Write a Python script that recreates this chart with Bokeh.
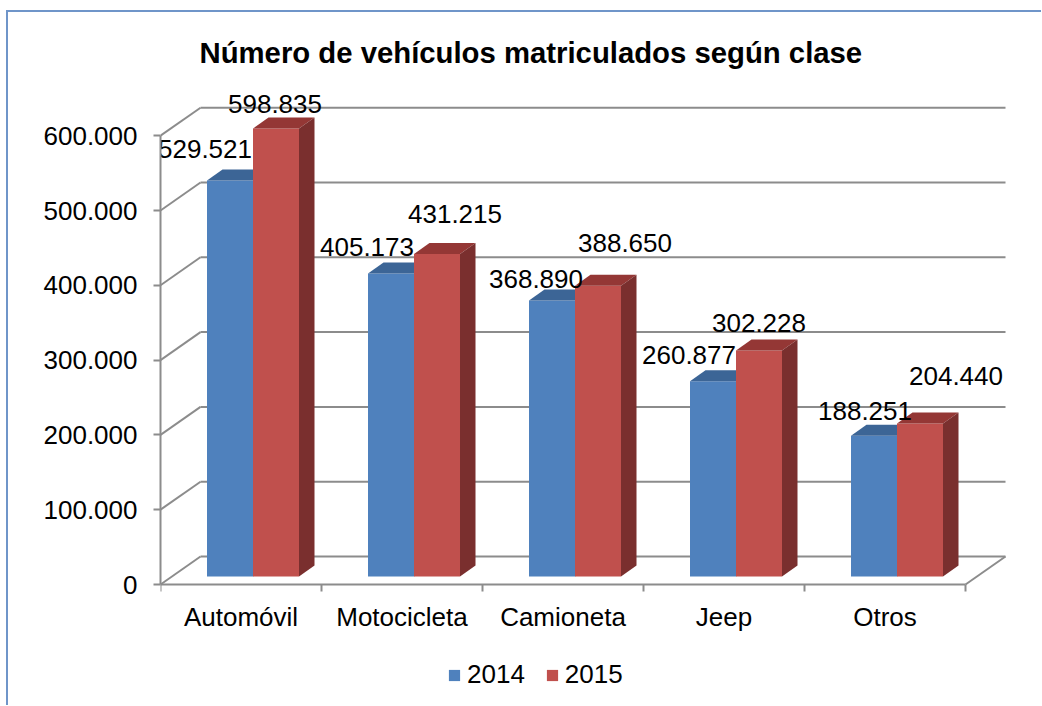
from bokeh.plotting import figure
from bokeh.models import Range1d, FixedTicker, Legend, LegendItem, ColumnDataSource, LinearAxis
from bokeh.embed import file_html
from bokeh.resources import INLINE
from bokeh.core.properties import value

# ---------------- data ----------------
categories = ["Automóvil", "Motocicleta", "Camioneta", "Jeep", "Otros"]
series_names = ["2014", "2015"]
values_2014 = [529521, 405173, 368890, 260877, 188251]
values_2015 = [598835, 431215, 388650, 302228, 204440]
y_ticks = [0, 100000, 200000, 300000, 400000, 500000, 600000]
y_tick_labels = ["0", "100.000", "200.000", "300.000", "400.000", "500.000", "600.000"]
title_text = "Número de vehículos matriculados según clase"

# ---------------- layout / style ----------------
FONT = "Liberation Sans"
PX_X = 161.0            # pixels per category
PX_Y = 0.748 / 1000.0   # pixels per unit of value
FRAME_W = 853
ABOVE_ZERO_PX = 494     # frame pixels above the value 0
BELOW_ZERO_PX = 116     # frame pixels below the value 0 (axis labels + legend)
FRAME_H = ABOVE_ZERO_PX + BELOW_ZERO_PX
X_END = FRAME_W / PX_X
Y_END = ABOVE_ZERO_PX / PX_Y
Y_START = -BELOW_ZERO_PX / PX_Y
n = len(categories)

# pseudo-3D offsets (converted from pixels to data units)
wall_dx, wall_dy = 40 / PX_X, 28 / PX_Y
bar_fx, bar_fy = 12 / PX_X, 8 / PX_Y
bar_w = 46 / PX_X
depth_dx, depth_dy = 15.5 / PX_X, 11 / PX_Y

# per-label nudges in screen pixels (layout only)
nudge_2014 = ([-25, -24, -16, -24, -9], [-31, -26, -22, -26, -25])
nudge_2015 = ([-1, 18, 27, 0, 36], [-25, -40, -43, -27, -48])

colors = {
    "2014": ("#4F81BD", "#3C6596", "#2F5480"),
    "2015": ("#C0504D", "#943735", "#7A2F2E"),
}
GRID = "#8C8C8C"
BORDER = "#6F95C9"

p = figure(
    output_backend="svg", toolbar_location=None,
    frame_width=FRAME_W, frame_height=FRAME_H,
    x_range=Range1d(0, X_END), y_range=Range1d(Y_START, Y_END),
    x_axis_location=None,
    min_border_left=152, min_border_top=78, min_border_right=28, min_border_bottom=5,
)
p.styles = {"margin-left": "6px", "margin-top": "10px",
            "border-top": f"2px solid {BORDER}", "border-left": f"2px solid {BORDER}"}
p.outline_line_color = None
p.xgrid.visible = False
p.ygrid.visible = False
p.background_fill_color = "white"
p.border_fill_color = "white"

# title
p.title.text = title_text
p.title.text_font = FONT
p.title.text_font_style = "bold"
p.title.text_font_size = "29.3px"
p.title.text_color = "black"
p.title.align = "left"
p.title.offset = 39
p.title.standoff = 43

# ------------- walls / floor grid -------------
gx, gy = [], []
for t in y_ticks:
    gx.append([wall_dx, n + wall_dx]); gy.append([t + wall_dy, t + wall_dy])
    gx.append([0, wall_dx]); gy.append([t, t + wall_dy])
gx.append([n, n + wall_dx]); gy.append([0, wall_dy])
p.multi_line(gx, gy, line_color=GRID, line_width=2)

# ------------- bars -------------
legend_items = []
for k, (name, vals) in enumerate(zip(series_names, [values_2014, values_2015])):
    front, top, side = colors[name]
    xl = [i + 0.5 + bar_fx - bar_w + k * bar_w for i in range(n)]
    xr = [x + bar_w for x in xl]
    yb = [bar_fy] * n
    yt = [bar_fy + v for v in vals]
    r = p.quad(left=xl, right=xr, bottom=yb, top=yt, fill_color=front, line_color=None)
    legend_items.append(LegendItem(label=name, renderers=[r]))
    p.patches(
        [[a, b, b + depth_dx, a + depth_dx] for a, b in zip(xl, xr)],
        [[t, t, t + depth_dy, t + depth_dy] for t in yt],
        fill_color=top, line_color=None)
    p.patches(
        [[b, b + depth_dx, b + depth_dx, b] for b in xr],
        [[bb, bb + depth_dy, t + depth_dy, t] for bb, t in zip(yb, yt)],
        fill_color=side, line_color=None)

# ------------- data labels -------------
for k, (vals, nudge) in enumerate([(values_2014, nudge_2014), (values_2015, nudge_2015)]):
    cx = [i + 0.5 + bar_fx - bar_w / 2 + k * bar_w for i in range(n)]
    src = ColumnDataSource(dict(
        x=cx, y=[bar_fy + v for v in vals],
        text=[f"{v:,}".replace(",", ".") for v in vals],
        xo=nudge[0], yo=nudge[1]))
    p.text(x="x", y="y", text="text", x_offset="xo", y_offset="yo", source=src,
           text_align="center", text_baseline="middle",
           text_font=value(FONT), text_font_size="26px", text_color="black")

# ------------- axes -------------
xa = LinearAxis(fixed_location=0)
xa.ticker = FixedTicker(ticks=[i + 0.5 for i in range(n)], minor_ticks=list(range(n + 1)))
xa.major_label_overrides = {i + 0.5: c for i, c in enumerate(categories)}
xa.bounds = (0, n)
xa.axis_line_color = GRID
xa.axis_line_width = 2
xa.major_tick_line_color = None
xa.major_tick_out = 0
xa.major_tick_in = 0
xa.minor_tick_line_color = GRID
xa.minor_tick_line_width = 2
xa.minor_tick_out = 7
xa.minor_tick_in = 0
xa.major_label_standoff = 10
xa.major_label_text_font = FONT
xa.major_label_text_font_size = "26px"
xa.major_label_text_color = "black"
p.add_layout(xa, "below")

ya = p.yaxis[0]
ya.ticker = FixedTicker(ticks=y_ticks)
ya.major_label_overrides = {t: s for t, s in zip(y_ticks, y_tick_labels)}
ya.bounds = (0, y_ticks[-1])
ya.axis_line_color = GRID
ya.axis_line_width = 2
ya.major_tick_line_color = GRID
ya.major_tick_line_width = 2
ya.major_tick_out = 7
ya.major_tick_in = 0
ya.minor_tick_line_color = None
ya.major_label_standoff = 16
ya.major_label_text_font = FONT
ya.major_label_text_font_size = "26px"
ya.major_label_text_color = "black"

# ------------- legend -------------
legend = Legend(
    items=legend_items, orientation="horizontal", location=(287, 10),
    glyph_width=14, glyph_height=14, label_standoff=6, spacing=20,
    padding=0, margin=0, border_line_color=None, background_fill_alpha=0,
    label_text_font=FONT, label_text_font_size="26px", label_text_color="black",
)
p.add_layout(legend)

open("out.html", "w").write(file_html(p, INLINE))
